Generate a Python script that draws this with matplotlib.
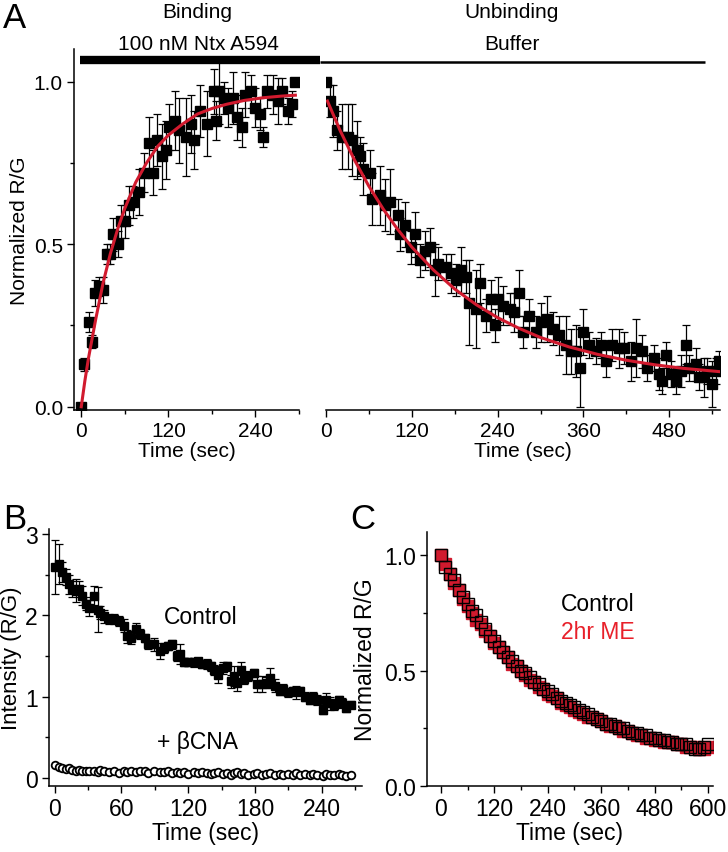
import numpy as np
import matplotlib.pyplot as plt
from matplotlib.lines import Line2D
from matplotlib.ticker import MultipleLocator

plt.rcParams['font.family'] = ['Liberation Sans', 'DejaVu Sans']

# === Panel A, binding (100 nM Ntx A594) ===
bind_t = [0, 4, 10, 15, 19, 24, 30, 35, 40, 44, 50, 55, 60, 66, 71, 80, 86, 94, 99, 105,
          111, 117, 121, 129, 134, 144, 151, 155, 163, 173, 183, 186, 190, 196, 202, 209,
          214, 221, 225, 234, 239, 246, 250, 256, 264, 271, 276, 285, 291, 295]
bind_v = [0.00, 0.13, 0.26, 0.20, 0.35, 0.37, 0.36, 0.47, 0.47, 0.53, 0.50, 0.57, 0.57,
          0.62, 0.63, 0.66, 0.72, 0.81, 0.72, 0.82, 0.77, 0.79, 0.86, 0.88, 0.85, 0.83,
          0.87, 0.82, 0.91, 0.87, 0.97, 0.88, 0.97, 0.95, 0.92, 0.95, 0.89, 0.86, 0.96,
          0.97, 0.92, 0.90, 0.83, 0.97, 0.96, 0.94, 0.97, 0.91, 0.93, 1.00]
bind_err = [0.01, 0.02, 0.03, 0.02, 0.04, 0.03, 0.04, 0.03, 0.03, 0.05, 0.04, 0.05, 0.05,
            0.06, 0.05, 0.07, 0.06, 0.08, 0.07, 0.08, 0.10, 0.09, 0.07, 0.09, 0.10, 0.12,
            0.09, 0.09, 0.08, 0.10, 0.07, 0.06, 0.10, 0.05, 0.06, 0.08, 0.07, 0.06, 0.07,
            0.05, 0.06, 0.05, 0.03, 0.05, 0.06, 0.07, 0.04, 0.04, 0.04, 0.00]
bind_fit_t = [0, 5, 10, 15, 20, 30, 40, 50, 60, 75, 90, 105, 120, 140, 160, 180, 200,
              225, 250, 275, 295]
bind_fit_v = [0.00, 0.08, 0.15, 0.21, 0.27, 0.38, 0.47, 0.545, 0.61, 0.69, 0.75, 0.80,
              0.835, 0.87, 0.90, 0.917, 0.93, 0.942, 0.95, 0.955, 0.958]

# === Panel A, unbinding (buffer) ===
unb_t = [0, 5, 10, 15, 22, 31, 36, 43, 47, 52, 61, 65, 75, 82, 89, 101, 104, 110, 119, 125,
         131, 138, 145, 152, 157, 168, 175, 182, 189, 196, 200, 210, 215, 224, 231, 236,
         240, 247, 257, 263, 270, 275, 284, 293, 301, 309, 317, 326, 335, 343, 349, 355,
         360, 368, 377, 384, 391, 400, 410, 417, 426, 434, 442, 449, 459, 466, 470, 475,
         482, 489, 496, 503, 507, 517, 521, 528, 533, 540, 545, 550]
unb_v = [1.00, 0.94, 0.91, 0.85, 0.83, 0.83, 0.82, 0.79, 0.77, 0.73,
         0.72, 0.64, 0.65, 0.62, 0.63, 0.59, 0.53, 0.56, 0.49, 0.53,
         0.45, 0.48, 0.49, 0.42, 0.44, 0.43, 0.41, 0.39, 0.42, 0.40,
         0.32, 0.30, 0.38, 0.28, 0.33, 0.25, 0.33, 0.31, 0.30, 0.29,
         0.35, 0.23, 0.28, 0.23, 0.26, 0.27, 0.24, 0.22, 0.19, 0.17,
         0.17, 0.12, 0.23, 0.19, 0.17, 0.19, 0.14, 0.19, 0.18, 0.18,
         0.14, 0.18, 0.17, 0.12, 0.15, 0.10, 0.08, 0.16, 0.10, 0.08,
         0.11, 0.19, 0.12, 0.13, 0.09, 0.09, 0.11, 0.07, 0.11, 0.14]
unb_err = [0.00, 0.05, 0.08, 0.06, 0.10, 0.10, 0.11, 0.09, 0.06, 0.08,
           0.07, 0.08, 0.09, 0.08, 0.10, 0.05, 0.05, 0.07, 0.05, 0.07,
           0.05, 0.06, 0.06, 0.08, 0.05, 0.04, 0.06, 0.05, 0.07, 0.05,
           0.13, 0.12, 0.06, 0.05, 0.06, 0.05, 0.07, 0.06, 0.05, 0.06,
           0.07, 0.05, 0.05, 0.05, 0.06, 0.07, 0.05, 0.06, 0.09, 0.07,
           0.08, 0.12, 0.07, 0.04, 0.04, 0.04, 0.05, 0.05, 0.06, 0.05,
           0.06, 0.09, 0.05, 0.04, 0.04, 0.05, 0.04, 0.04, 0.04, 0.04,
           0.05, 0.06, 0.04, 0.05, 0.04, 0.06, 0.04, 0.07, 0.04, 0.03]
unb_fit_t = [2, 20, 40, 60, 80, 100, 120, 150, 180, 210, 240, 270, 300, 340, 380, 420,
             460, 500, 550]
unb_fit_v = [0.94, 0.848, 0.758, 0.678, 0.608, 0.546, 0.491, 0.421, 0.362, 0.314, 0.274,
             0.241, 0.213, 0.184, 0.161, 0.143, 0.129, 0.118, 0.108]

# === Panel B, Control vs + bCNA ===
b_t = [0, 4, 7, 10, 13, 16, 19, 22, 25, 28, 31, 35, 39, 41, 44, 49, 53, 58, 62, 65,
       69, 73, 77, 81, 84, 89, 95, 98, 102, 105, 110, 113, 116, 120, 125, 129, 132, 137,
       140, 143, 147, 151, 155, 158, 161, 164, 167, 170, 174, 179, 182, 186, 190, 193,
       198, 202, 205, 210, 214, 217, 220, 225, 229, 232, 236, 241, 244, 247, 251, 255,
       258, 262, 266]
b_ctrl = [2.59, 2.63, 2.53, 2.47, 2.38, 2.32, 2.30, 2.32, 2.24, 2.14, 2.09,
          2.24, 2.07, 2.03, 1.99, 1.95, 1.95, 1.93, 1.87, 1.74,
          1.72, 1.83, 1.77, 1.72, 1.64, 1.64, 1.56, 1.60, 1.62, 1.64,
          1.50, 1.52, 1.42, 1.42, 1.42, 1.44, 1.40, 1.40, 1.37, 1.33,
          1.27, 1.35, 1.37, 1.19, 1.25, 1.17, 1.33, 1.21, 1.25, 1.29,
          1.15, 1.15, 1.17, 1.23, 1.13, 1.07, 1.09, 1.05, 1.07, 1.05,
          1.07, 1.00, 0.96, 1.00, 0.96, 0.84, 0.96, 0.92, 0.90, 0.96,
          0.92, 0.86, 0.90]
b_ctrl_err = [0.33, 0.25, 0.12, 0.10, 0.12, 0.10, 0.14, 0.10, 0.12, 0.08, 0.10,
              0.12, 0.28, 0.08, 0.08, 0.06, 0.06, 0.06, 0.08, 0.08,
              0.08, 0.08, 0.06, 0.05, 0.06, 0.08, 0.10, 0.06, 0.05, 0.05,
              0.06, 0.12, 0.05, 0.05, 0.06, 0.04, 0.05, 0.06, 0.05, 0.06,
              0.10, 0.07, 0.06, 0.08, 0.12, 0.10, 0.10, 0.06, 0.06, 0.05,
              0.10, 0.10, 0.07, 0.12, 0.08, 0.05, 0.06, 0.05, 0.05, 0.08,
              0.05, 0.06, 0.05, 0.06, 0.06, 0.05, 0.08, 0.08, 0.06, 0.05,
              0.06, 0.05, 0.04]
b_cna = [0.16, 0.13, 0.12, 0.11, 0.12, 0.10, 0.09, 0.10, 0.08, 0.09,
         0.08, 0.09, 0.07, 0.10, 0.08, 0.07, 0.09, 0.06, 0.08, 0.07,
         0.08, 0.07, 0.09, 0.08, 0.06, 0.08, 0.07, 0.07, 0.08, 0.06,
         0.07, 0.06, 0.07, 0.05, 0.07, 0.06, 0.07, 0.06, 0.05, 0.06,
         0.07, 0.05, 0.06, 0.04, 0.06, 0.07, 0.05, 0.06, 0.04, 0.05,
         0.06, 0.04, 0.05, 0.06, 0.04, 0.05, 0.03, 0.05, 0.04, 0.06,
         0.04, 0.05, 0.03, 0.05, 0.04, 0.02, 0.05, 0.04, 0.03, 0.05,
         0.04, 0.02, 0.04]
b_cna_err = 0.02

# === Panel C, Control vs 2hr ME ===
c_t = np.arange(0, 601, 10)
c_ctrl = [1.00, 0.95, 0.92, 0.89, 0.85, 0.82, 0.79, 0.76, 0.74, 0.71,
          0.68, 0.65, 0.63, 0.60, 0.58, 0.56, 0.54, 0.52, 0.50, 0.49,
          0.47, 0.45, 0.44, 0.42, 0.41, 0.40, 0.38, 0.37, 0.36, 0.35,
          0.34, 0.33, 0.32, 0.31, 0.30, 0.29, 0.28, 0.27, 0.27, 0.26,
          0.25, 0.25, 0.24, 0.23, 0.23, 0.22, 0.22, 0.21, 0.21, 0.20,
          0.20, 0.19, 0.19, 0.18, 0.18, 0.18, 0.17, 0.16, 0.16, 0.17, 0.18]
c_me = [1.00, 0.96, 0.92, 0.88, 0.85, 0.81, 0.78, 0.75, 0.72, 0.70,
        0.67, 0.65, 0.62, 0.60, 0.58, 0.56, 0.53, 0.52, 0.50, 0.48,
        0.46, 0.45, 0.43, 0.42, 0.40, 0.39, 0.38, 0.36, 0.35, 0.34,
        0.33, 0.32, 0.31, 0.30, 0.30, 0.29, 0.28, 0.27, 0.26, 0.26,
        0.25, 0.24, 0.24, 0.23, 0.22, 0.22, 0.21, 0.21, 0.20, 0.20,
        0.19, 0.19, 0.19, 0.18, 0.18, 0.17, 0.17, 0.17, 0.16, 0.16, 0.17]

RED = '#d11a2e'
W, H = 728, 853
FS_A = 15
FS_BC = 16.5


def px_axes(fig, x0, y0, x1, y1):
    # pixel box (left, top, right, bottom) -> figure axes
    return fig.add_axes([x0 / W, 1 - y1 / H, (x1 - x0) / W, (y1 - y0) / H])


def style(ax, size, left=True):
    ax.spines['top'].set_visible(False)
    ax.spines['right'].set_visible(False)
    ax.spines['left'].set_visible(left)
    for s in ax.spines.values():
        s.set_linewidth(1.1)
    ax.tick_params(which='major', direction='out', length=5, width=1.0, labelsize=size, pad=3)
    ax.tick_params(which='minor', direction='out', length=3, width=1.0)
    if not left:
        ax.tick_params(axis='y', which='both', left=False, labelleft=False)


def errplot(ax, x, y, err, **kw):
    ax.errorbar(x, y, yerr=err, fmt='s', color='black', ecolor='black', elinewidth=0.9,
                capsize=3, capthick=0.9, **kw)


fig = plt.figure(figsize=(W / 100, H / 100), dpi=100)

# --- A left ---
axA1 = px_axes(fig, 74, 50, 299, 411)
errplot(axA1, bind_t, bind_v, bind_err, ms=6.5, zorder=2)
axA1.plot(bind_fit_t, bind_fit_v, color=RED, lw=2.2, zorder=3)
axA1.set_xlim(-10, 300)
axA1.set_ylim(-0.01, 1.10)
axA1.xaxis.set_major_locator(MultipleLocator(120))
axA1.xaxis.set_minor_locator(MultipleLocator(60))
axA1.yaxis.set_major_locator(MultipleLocator(0.5))
axA1.yaxis.set_minor_locator(MultipleLocator(0.25))
axA1.yaxis.set_major_formatter(plt.FormatStrFormatter('%.1f'))
style(axA1, FS_A)
axA1.set_xlabel('Time (sec)', fontsize=FS_A, labelpad=1)
axA1.set_ylabel('Normalized R/G', fontsize=FS_A, labelpad=3)

# --- A right ---
axA2 = px_axes(fig, 326, 50, 720, 411)
errplot(axA2, unb_t, unb_v, unb_err, ms=6.5, zorder=2)
axA2.plot(unb_fit_t, unb_fit_v, color=RED, lw=2.2, zorder=3)
axA2.set_xlim(0, 551)
axA2.set_ylim(-0.01, 1.10)
axA2.xaxis.set_major_locator(MultipleLocator(120))
axA2.xaxis.set_minor_locator(MultipleLocator(60))
style(axA2, FS_A, left=False)
axA2.set_xlabel('Time (sec)', fontsize=FS_A, labelpad=1)

# top condition bars
fig.add_artist(Line2D([80 / W, 320 / W], [1 - 61 / H] * 2, color='black', lw=6,
                      solid_capstyle='butt'))
fig.add_artist(Line2D([320 / W, 705 / W], [1 - 63 / H] * 2, color='black', lw=1.8,
                      solid_capstyle='butt'))
fig.text(198 / W, 1 - 45 / H, '100 nM Ntx A594', ha='center', va='center', fontsize=FS_A)
fig.text(512 / W, 1 - 45 / H, 'Buffer', ha='center', va='center', fontsize=FS_A)
fig.text(197 / W, 1 - 12 / H, 'Binding', ha='center', va='center', fontsize=FS_A)
fig.text(512 / W, 1 - 12 / H, 'Unbinding', ha='center', va='center', fontsize=FS_A)
fig.text(3 / W, 1 - 18 / H, 'A', ha='left', va='center', fontsize=25)

# --- B ---
axB = px_axes(fig, 49, 530, 362, 787)
axB.errorbar(b_t, b_cna, yerr=b_cna_err, fmt='o', ms=5.5, mfc='white', mec='black', mew=1.3,
             color='black', ecolor='black', elinewidth=0.8, capsize=2, zorder=2)
errplot(axB, b_t, b_ctrl, b_ctrl_err, ms=6, zorder=3)
axB.set_xlim(-5, 276)
axB.set_ylim(-0.1, 3.06)
axB.xaxis.set_major_locator(MultipleLocator(60))
axB.xaxis.set_minor_locator(MultipleLocator(30))
axB.yaxis.set_major_locator(MultipleLocator(1))
axB.yaxis.set_minor_locator(MultipleLocator(0.5))
style(axB, FS_BC)
axB.set_xlabel('Time (sec)', fontsize=FS_BC, labelpad=1)
axB.set_ylabel('Intensity (R/G)', fontsize=16)
axB.yaxis.set_label_coords(-0.085, 0.5)
axB.text(131, 1.99, 'Control', ha='center', va='center', fontsize=FS_BC)
axB.text(128, 0.45, '+ \u03b2CNA', ha='center', va='center', fontsize=FS_BC)
fig.text(3 / W, 1 - 520 / H, 'B', ha='left', va='center', fontsize=25)

# --- C ---
axC = px_axes(fig, 427, 533, 713, 787)
axC.plot(c_t, c_me, 's', ms=8, mfc=RED, mec=RED, zorder=2)
axC.plot(c_t, c_ctrl, 's', ms=8, mfc='none', mec='black', mew=1.0, zorder=3)
axC.set_xlim(-31, 611)
axC.set_ylim(0, 1.1)
axC.xaxis.set_major_locator(MultipleLocator(120))
axC.xaxis.set_minor_locator(MultipleLocator(60))
axC.yaxis.set_major_locator(MultipleLocator(0.5))
axC.yaxis.set_minor_locator(MultipleLocator(0.25))
axC.yaxis.set_major_formatter(plt.FormatStrFormatter('%.1f'))
style(axC, FS_BC)
axC.set_xlabel('Time (sec)', fontsize=FS_BC, labelpad=1)
axC.set_ylabel('Normalized R/G', fontsize=FS_BC, labelpad=5)
axC.text(352, 0.79, 'Control', ha='center', va='center', fontsize=FS_BC, color='black')
axC.text(352, 0.67, '2hr ME', ha='center', va='center', fontsize=FS_BC, color='#e8202a')
fig.text(350 / W, 1 - 520 / H, 'C', ha='left', va='center', fontsize=25)

fig.savefig('out.png', dpi=100)
